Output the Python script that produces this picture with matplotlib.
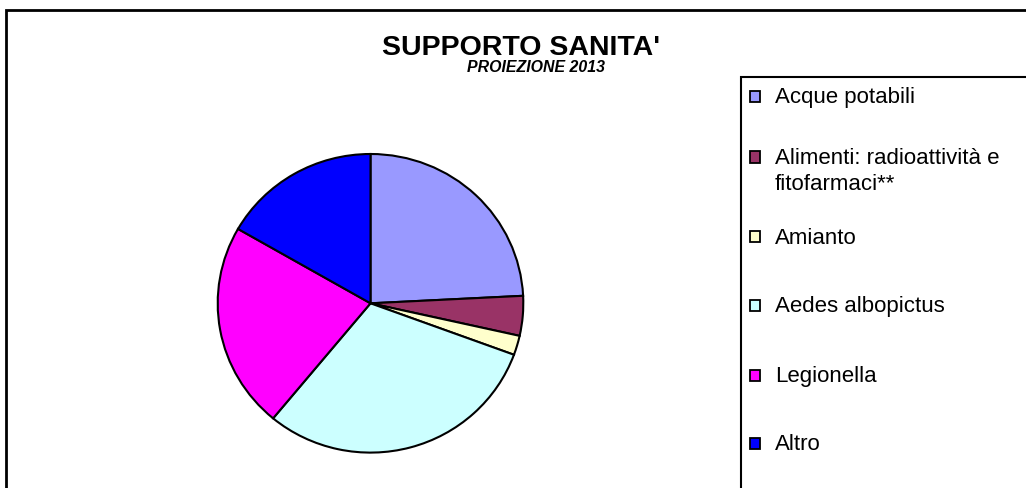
import matplotlib
matplotlib.use("Agg")
import matplotlib.pyplot as plt
from matplotlib.patches import Rectangle

plt.rcParams['font.family'] = ['Liberation Sans', 'DejaVu Sans']

# ---- data ----
categories = ["Acque potabili",
              "Alimenti: radioattività e\nfitofarmaci**",
              "Amianto",
              "Aedes albopictus",
              "Legionella",
              "Altro"]
values = [24.2, 4.3, 2.1, 30.4, 22.3, 16.7]
colors = ["#9999FF", "#993366", "#FFFFCC", "#CCFFFF", "#FF00FF", "#0000FF"]
title = "SUPPORTO SANITA'"
subtitle = "PROIEZIONE 2013"

W, H = 1026, 488
fig = plt.figure(figsize=(W / 100, H / 100), dpi=100)
fig.patch.set_facecolor("white")

def fx(px):
    return px / W

def fy(py):
    return 1 - py / H

# outer chart border (right/bottom edges fall outside the picture)
fig.patches.append(Rectangle((fx(6), fy(H + 20)), 2.0, fy(10) - fy(H + 20),
                             transform=fig.transFigure, fill=False,
                             edgecolor="black", linewidth=2.0))

# pie (slightly wider than tall, as in the reference)
cx, cy, rx, ry = 370.5, 303.3, 152.8, 149.3
lim = 1.01
ax = fig.add_axes([fx(cx - rx * lim), fy(cy + ry * lim),
                   2 * rx * lim / W, 2 * ry * lim / H])
ax.pie(values, colors=colors, startangle=90, counterclock=False,
       wedgeprops=dict(edgecolor="black", linewidth=1.5))
ax.set_xlim(-lim, lim)
ax.set_ylim(-lim, lim)
ax.set_aspect("auto")
ax.axis("off")

# titles
fig.text(fx(521), fy(48), title, ha="center", va="center",
         fontsize=20.5, fontweight="bold")
fig.text(fx(536), fy(67), subtitle, ha="center", va="center",
         fontsize=11.4, fontweight="bold", fontstyle="italic")

# legend box
fig.patches.append(Rectangle((fx(741), fy(H + 20)), 2.0, fy(77) - fy(H + 20),
                             transform=fig.transFigure, fill=False,
                             edgecolor="black", linewidth=1.5))

legend_rows = [96.5, 157, 237, 305, 375, 443]
line_step = 26
for lab, col, yrow in zip(categories, colors, legend_rows):
    sw, sh = 10, 11
    fig.patches.append(Rectangle((fx(750), fy(yrow + sh / 2)), sw / W, sh / H,
                                 transform=fig.transFigure, facecolor=col,
                                 edgecolor="black", linewidth=1.3))
    for k, line in enumerate(lab.split("\n")):
        fig.text(fx(775), fy(yrow + 7 + k * line_step), line, ha="left",
                 va="baseline", fontsize=16)

fig.savefig("out.png", dpi=100, facecolor="white")
